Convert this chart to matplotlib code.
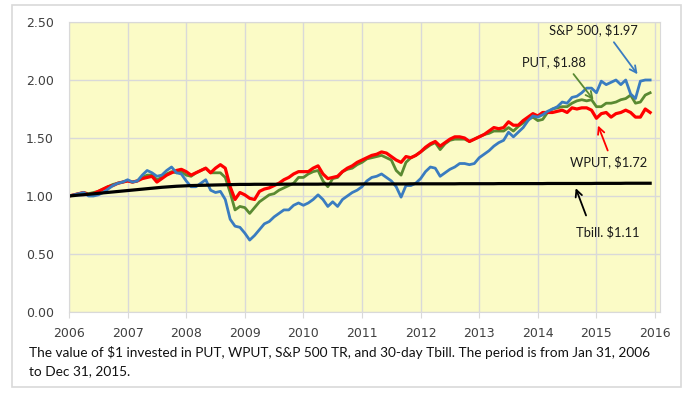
import numpy as np
import matplotlib.pyplot as plt
from matplotlib.patches import Rectangle

# Valor de $1 invertido, datos mensuales ene-2006 .. dic-2015
sp500 = [1.00, 1.01, 1.02, 1.03, 1.00, 1.00, 1.01, 1.03, 1.06, 1.09, 1.11, 1.12,
         1.14, 1.12, 1.13, 1.18, 1.22, 1.20, 1.17, 1.18, 1.22, 1.25, 1.20, 1.19,
         1.13, 1.08, 1.08, 1.11, 1.14, 1.05, 1.03, 1.04, 0.97, 0.80, 0.74, 0.73,
         0.68, 0.62, 0.66, 0.71, 0.76, 0.78, 0.82, 0.85, 0.88, 0.88, 0.92, 0.94,
         0.92, 0.94, 0.97, 1.01, 0.97, 0.91, 0.95, 0.91, 0.97, 1.00, 1.03, 1.05,
         1.08, 1.13, 1.16, 1.17, 1.19, 1.16, 1.13, 1.08, 0.99, 1.09, 1.09, 1.11,
         1.15, 1.21, 1.25, 1.24, 1.17, 1.20, 1.23, 1.25, 1.28, 1.28, 1.27, 1.28,
         1.33, 1.36, 1.39, 1.43, 1.46, 1.48, 1.55, 1.51, 1.55, 1.59, 1.65, 1.69,
         1.68, 1.70, 1.73, 1.75, 1.77, 1.81, 1.80, 1.85, 1.86, 1.89, 1.93, 1.93,
         1.89, 1.99, 1.96, 1.98, 2.00, 1.96, 2.00, 1.88, 1.84, 1.99, 2.00, 2.00]

put = [1.00, 1.01, 1.02, 1.03, 1.02, 1.03, 1.04, 1.06, 1.08, 1.10, 1.11, 1.12,
       1.13, 1.12, 1.13, 1.16, 1.18, 1.18, 1.14, 1.16, 1.19, 1.21, 1.20, 1.21,
       1.18, 1.17, 1.20, 1.22, 1.24, 1.20, 1.20, 1.20, 1.16, 1.03, 0.88, 0.91,
       0.90, 0.85, 0.90, 0.95, 0.98, 1.01, 1.02, 1.05, 1.07, 1.09, 1.11, 1.16,
       1.16, 1.19, 1.21, 1.22, 1.13, 1.08, 1.15, 1.16, 1.21, 1.23, 1.24, 1.27,
       1.29, 1.32, 1.33, 1.34, 1.35, 1.33, 1.31, 1.22, 1.18, 1.29, 1.33, 1.35,
       1.38, 1.41, 1.44, 1.46, 1.40, 1.45, 1.48, 1.49, 1.49, 1.49, 1.47, 1.49,
       1.51, 1.53, 1.54, 1.56, 1.56, 1.56, 1.59, 1.56, 1.60, 1.63, 1.66, 1.68,
       1.65, 1.66, 1.72, 1.75, 1.76, 1.77, 1.77, 1.80, 1.82, 1.83, 1.82, 1.83,
       1.77, 1.77, 1.80, 1.80, 1.81, 1.83, 1.84, 1.87, 1.80, 1.81, 1.87, 1.89]

wput = [1.00, 1.01, 1.02, 1.03, 1.01, 1.02, 1.04, 1.06, 1.08, 1.09, 1.11, 1.12,
        1.13, 1.12, 1.13, 1.15, 1.16, 1.17, 1.12, 1.15, 1.18, 1.20, 1.22, 1.23,
        1.21, 1.18, 1.20, 1.22, 1.24, 1.20, 1.24, 1.27, 1.24, 1.08, 0.97, 1.03,
        1.01, 0.98, 0.97, 1.04, 1.06, 1.07, 1.09, 1.11, 1.14, 1.16, 1.19, 1.21,
        1.21, 1.21, 1.24, 1.26, 1.19, 1.15, 1.16, 1.17, 1.21, 1.24, 1.26, 1.29,
        1.31, 1.33, 1.35, 1.36, 1.38, 1.37, 1.34, 1.31, 1.29, 1.34, 1.33, 1.35,
        1.38, 1.42, 1.45, 1.47, 1.43, 1.46, 1.49, 1.51, 1.51, 1.50, 1.47, 1.49,
        1.51, 1.53, 1.56, 1.59, 1.58, 1.59, 1.64, 1.61, 1.61, 1.65, 1.68, 1.71,
        1.69, 1.72, 1.72, 1.72, 1.73, 1.74, 1.72, 1.76, 1.75, 1.76, 1.76, 1.74,
        1.67, 1.71, 1.72, 1.68, 1.71, 1.72, 1.74, 1.72, 1.68, 1.68, 1.75, 1.72]

tbill = [1.000, 1.004, 1.008, 1.011, 1.015, 1.019, 1.023, 1.027, 1.031, 1.035, 1.039, 1.043,
         1.047, 1.051, 1.055, 1.059, 1.063, 1.067, 1.071, 1.075, 1.078, 1.081, 1.084, 1.086,
         1.088, 1.090, 1.091, 1.092, 1.093, 1.094, 1.095, 1.096, 1.097, 1.098, 1.099, 1.100,
         1.100, 1.100, 1.101, 1.101, 1.101, 1.101, 1.101, 1.101, 1.102, 1.102, 1.102, 1.102,
         1.102, 1.102, 1.102, 1.102, 1.103, 1.103, 1.103, 1.103, 1.103, 1.103, 1.103, 1.103,
         1.104, 1.104, 1.104, 1.104, 1.104, 1.104, 1.104, 1.104, 1.104, 1.104, 1.105, 1.105,
         1.105, 1.105, 1.105, 1.105, 1.105, 1.105, 1.105, 1.105, 1.106, 1.106, 1.106, 1.106,
         1.106, 1.106, 1.106, 1.106, 1.107, 1.107, 1.107, 1.107, 1.107, 1.107, 1.107, 1.107,
         1.107, 1.107, 1.108, 1.108, 1.108, 1.108, 1.108, 1.108, 1.108, 1.108, 1.108, 1.108,
         1.109, 1.109, 1.109, 1.109, 1.109, 1.109, 1.110, 1.110, 1.110, 1.110, 1.110, 1.110]

year_ticks = list(range(2006, 2017))
y_ticks = [0.0, 0.5, 1.0, 1.5, 2.0, 2.5]

caption = ("The value of $1 invested in PUT, WPUT, S&P 500 TR, and 30-day Tbill. "
           "The period is from Jan 31, 2006\nto Dec 31, 2015.")

# eje x en años fraccionarios
t = 2006 + np.arange(len(sp500)) / 12

fig = plt.figure(figsize=(6.94, 3.96), dpi=100)
fig.patch.set_facecolor('white')
fig.add_artist(Rectangle((11.5 / 694, 9 / 396), 669 / 694, 382 / 396,
                         transform=fig.transFigure, fill=False,
                         edgecolor='#d9d9d9', linewidth=1.2))

ax = fig.add_axes([69 / 694, 84 / 396, 591 / 694, 290 / 396])
ax.set_facecolor('#fbfbc6')

ax.plot(t, put, color='#5a8a32', linewidth=2.0)
ax.plot(t, wput, color='#ff0000', linewidth=2.3)
ax.plot(t, sp500, color='#3a7cc0', linewidth=2.0)
ax.plot(t, tbill, color='#000000', linewidth=2.3)

ax.set_xlim(2006, 2016.085)
ax.set_ylim(0, 2.5)
ax.set_xticks(year_ticks)
ax.set_xticklabels([str(y) for y in year_ticks])
ax.set_yticks(y_ticks)
ax.set_yticklabels([f'{v:.2f}' for v in y_ticks])
ax.grid(True, color='#d9d9d9', linewidth=1.0)
ax.set_axisbelow(True)
for s in ax.spines.values():
    s.set_color('#d9d9d9')
ax.tick_params(axis='x', length=4, color='#d9d9d9', pad=7, labelsize=9, labelcolor='#404040')
ax.tick_params(axis='y', length=0, pad=11, labelsize=9, labelcolor='#404040')

# anotaciones
afont = dict(fontsize=9.3, family='Lato', color='#1a1a1a', ha='center', va='center')
ax.text(2014.95, 2.43, 'S&P 500, $1.97', **afont)
ax.annotate('', xy=(2015.73, 2.03), xytext=(2015.27, 2.345),
            arrowprops=dict(arrowstyle='->', color='#3a7cc0', lw=1.3, mutation_scale=12))
ax.text(2014.28, 2.155, 'PUT, $1.88', **afont)
ax.annotate('', xy=(2014.98, 1.81), xytext=(2014.58, 2.07),
            arrowprops=dict(arrowstyle='->', color='#5a8a32', lw=1.3, mutation_scale=12))
ax.text(2015.21, 1.293, 'WPUT, $1.72', **afont)
ax.annotate('', xy=(2015.01, 1.63), xytext=(2015.21, 1.37),
            arrowprops=dict(arrowstyle='->', color='#ff0000', lw=1.3, mutation_scale=12))
ax.text(2015.19, 0.69, 'Tbill. $1.11', **afont)
ax.annotate('', xy=(2014.63, 1.09), xytext=(2014.84, 0.81),
            arrowprops=dict(arrowstyle='->', color='#000000', lw=1.3, mutation_scale=12))

fig.text(29 / 694, 1 - 346 / 396, caption, fontsize=9.8, family='Lato',
         color='#111111', ha='left', va='top', linespacing=1.6)

fig.savefig('out.png', dpi=100)
